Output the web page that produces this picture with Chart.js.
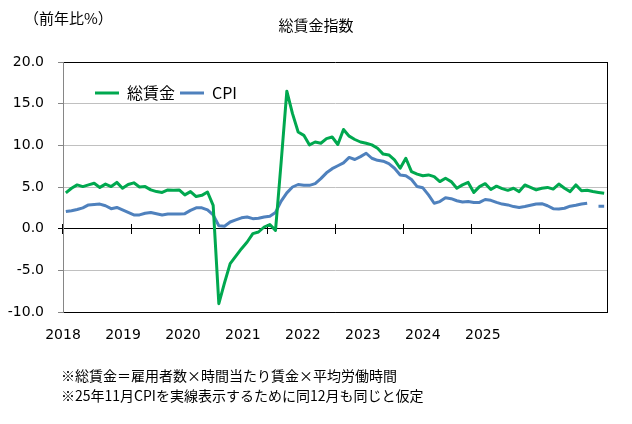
<!DOCTYPE html>
<html><head><meta charset="utf-8">
<script src="https://cdn.jsdelivr.net/npm/chart.js@4.4.1/dist/chart.umd.min.js"></script>
<style>
html,body{margin:0;padding:0;background:#fff;}
#wrap{position:relative;width:632px;height:424px;overflow:hidden;background:#fff;}
#c{position:absolute;left:0;top:0;}
.unit{position:absolute;left:24px;top:8px;font-family:"Noto Sans CJK JP";font-size:15px;line-height:20px;color:#000;white-space:nowrap;}
.note{position:absolute;left:61px;top:365px;font-family:"Noto Sans CJK JP";font-size:14px;line-height:20px;color:#000;white-space:nowrap;}
</style></head>
<body><div id="wrap"><canvas id="c" width="632" height="424"></canvas>
<div class="unit">（前年比%）</div>
<div class="note">※総賃金＝雇用者数×時間当たり賃金×平均労働時間<br>※25年11月CPIを実線表示するために同12月も同じと仮定</div></div>
<script>
// ---- data ----
const yearLabels = ['2018','2019','2020','2021','2022','2023','2024','2025'];
const monthLabels = [];
for (const y of yearLabels) { for (let m = 1; m <= 12; m++) monthLabels.push(y + '/' + m); }

const wageSeries = [
  4.3, 4.85, 5.25, 5.05, 5.25, 5.45, 4.95, 5.35, 5.05, 5.55, 4.85, 5.3,
  5.5, 5.0, 5.05, 4.65, 4.45, 4.35, 4.65, 4.6, 4.65, 4.05, 4.45, 3.85,
  4.0, 4.4, 2.8, -9.0, -6.5, -4.2, -3.3, -2.4, -1.6, -0.6, -0.4, 0.2,
  0.5, -0.2, 8.0, 16.5, 13.8, 11.6, 11.2, 10.05, 10.4, 10.25, 10.8, 11.0,
  10.1, 11.9, 11.1, 10.7, 10.4, 10.25, 10.05, 9.65, 8.95, 8.85, 8.25, 7.25,
  8.45, 6.85, 6.55, 6.35, 6.45, 6.25, 5.65, 6.05, 5.65, 4.85, 5.25, 5.55,
  4.35, 5.05, 5.4, 4.7, 5.1, 4.8, 4.6, 4.85, 4.45, 5.25, 4.95, 4.65,
  4.85, 4.95, 4.75, 5.35, 4.85, 4.45, 5.25, 4.55, 4.6, 4.45, 4.35, 4.25
];
const cpiSeries = [
  2.05, 2.15, 2.3, 2.5, 2.85, 2.9, 2.95, 2.75, 2.4, 2.55, 2.25, 1.95,
  1.65, 1.65, 1.85, 1.95, 1.8, 1.65, 1.75, 1.75, 1.75, 1.8, 2.2, 2.5,
  2.5, 2.25, 1.65, 0.35, 0.3, 0.8, 1.05, 1.3, 1.4, 1.2, 1.25, 1.4,
  1.5, 1.95, 3.3, 4.3, 5.0, 5.3, 5.2, 5.2, 5.4, 6.0, 6.7, 7.2,
  7.55, 7.9, 8.55, 8.3, 8.65, 9.05, 8.45, 8.2, 8.1, 7.8, 7.25, 6.45,
  6.35, 5.9, 5.05, 4.9, 4.05, 3.05, 3.25, 3.7, 3.6, 3.35, 3.2, 3.25,
  3.15, 3.15, 3.5, 3.4, 3.15, 2.95, 2.85, 2.65, 2.55, 2.65, 2.8, 2.95,
  3.0, 2.75, 2.4, 2.35, 2.45, 2.7, 2.8, 2.95, 3.05, null, 2.7, 2.7
];
const seriesNames = ['総賃金', 'CPI'];
const chartTitle = '総賃金指数';

// ---- chart ----
const FONT_NUM = 'DejaVu Sans';
const FONT_JP = 'Noto Sans CJK JP';
const GREEN = '#00A84F';
const BLUE = '#4F81BD';

const legendInside = {
  id: 'legendInside',
  afterLayout(chart) {
    const lg = chart.legend;
    if (!lg) return;
    const ca = chart.chartArea;
    lg.left = ca.left + 27;
    lg.top = ca.top + 18;
    lg.right = ca.right;
    lg.bottom = lg.top + 30;
    lg.width = lg.right - lg.left;
    lg.height = lg.bottom - lg.top;
  }
};

const yearTick = (ctx) => (ctx.index !== undefined && ctx.index % 12 === 0 ? '#000' : 'rgba(0,0,0,0)');

new Chart(document.getElementById('c'), {
  type: 'line',
  data: {
    labels: monthLabels,
    datasets: [
      { label: seriesNames[0], data: wageSeries, borderColor: GREEN, backgroundColor: GREEN,
        borderWidth: 3, pointRadius: 0, tension: 0, borderJoinStyle: 'round', xAxisID: 'x', yAxisID: 'y' },
      { label: seriesNames[1], data: cpiSeries, borderColor: BLUE, backgroundColor: BLUE,
        borderWidth: 3, pointRadius: 0, tension: 0, borderJoinStyle: 'round', spanGaps: false, xAxisID: 'x', yAxisID: 'y' }
    ]
  },
  options: {
    responsive: false,
    animation: false,
    events: [],
    layout: { padding: 0 },
    plugins: {
      tooltip: { enabled: false },
      title: { display: true, text: chartTitle, color: '#000',
        font: { family: FONT_JP, size: 15, weight: 'normal' }, padding: { top: 16, bottom: 27 } },
      legend: { display: true, position: 'top', align: 'start', maxHeight: 1,
        labels: { usePointStyle: true, pointStyle: 'line', pointStyleWidth: 24, padding: 5,
          color: '#000', font: { family: FONT_JP, size: 16 } } }
    },
    scales: {
      x: { type: 'category', position: { y: 0 }, offset: true,
        grid: { offset: true, drawOnChartArea: false, drawTicks: true, tickLength: 5,
          color: yearTick, tickColor: yearTick, lineWidth: 1 },
        border: { display: true, color: '#000', width: 1 },
        ticks: { display: false, autoSkip: false } },
      xUp: { type: 'category', position: { y: 0 }, offset: true,
        grid: { offset: true, drawOnChartArea: false, drawTicks: true, tickLength: -5,
          color: yearTick, tickColor: yearTick, lineWidth: 1 },
        border: { display: false },
        ticks: { display: false, autoSkip: false } },
      x2: { type: 'linear', position: 'bottom', min: 2018, max: 2027.07,
        afterFit: (s) => { s.height = 112; },
        afterBuildTicks: (s) => { s.ticks = yearLabels.map((t, i) => ({ value: 2018 + i })); },
        ticks: { autoSkip: false, maxRotation: 0, padding: 15, color: '#000',
          font: { family: FONT_NUM, size: 14 }, callback: (v) => yearLabels[Math.round(v) - 2018] },
        grid: { display: false, drawTicks: false },
        border: { display: true, color: '#000', width: 1 } },
      y: { type: 'linear', position: 'left', min: -10, max: 20,
        afterFit: (s) => { s.width = 63; },
        ticks: { stepSize: 5, padding: 14, color: '#000', font: { family: FONT_NUM, size: 14 },
          callback: (v) => Number(v).toFixed(1) },
        grid: { drawTicks: true, tickLength: 5, lineWidth: 1,
          color: (ctx) => { const v = ctx.tick ? ctx.tick.value : null; return (v === 20 || v === -10 || v === 0) ? '#000' : '#c0c0c0'; },
          tickColor: (ctx) => (ctx.tick && ctx.tick.value === 0 ? '#000' : '#868686') },
        border: { display: true, color: '#868686', width: 1 } },
      y2: { type: 'linear', position: 'right', min: -10, max: 20,
        afterFit: (s) => { s.width = 25; },
        ticks: { display: false },
        grid: { display: false, drawTicks: false },
        border: { display: true, color: '#000', width: 1 } }
    }
  },
  plugins: [legendInside]
});
</script>
</body></html>
